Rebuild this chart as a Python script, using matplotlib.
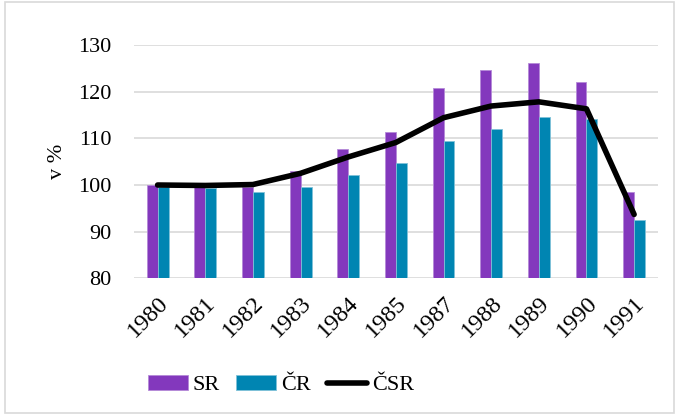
import matplotlib
matplotlib.use("Agg")
import matplotlib.pyplot as plt
import numpy as np
from matplotlib.patches import Rectangle

years = ["1980", "1981", "1982", "1983", "1984", "1985", "1987", "1988", "1989", "1990", "1991"]
sr = [100.0, 99.6, 99.6, 102.9, 107.7, 111.4, 120.7, 124.7, 126.2, 122.1, 98.4]
cr = [99.6, 99.4, 98.4, 99.5, 102.2, 104.7, 109.5, 112.0, 114.5, 114.2, 92.5]
csr = [100.0, 99.9, 100.1, 102.5, 106.0, 109.1, 114.4, 116.9, 117.8, 116.3, 93.7]

plt.rcParams['font.family'] = ['Liberation Serif', 'DejaVu Serif']

fig = plt.figure(figsize=(6.79, 4.15), dpi=100)
ax = fig.add_axes([0.197, 0.329, 0.772, 0.563])

x = np.arange(len(years))
w = 0.23
b1 = ax.bar(x - w/2, sr, width=w, color="#8338BD", edgecolor="#B58AD8", linewidth=0.6, label="SR", zorder=2)
b2 = ax.bar(x + w/2, cr, width=w, color="#0085B2", edgecolor="#7FC2D8", linewidth=0.6, label="ČR", zorder=2)
l1, = ax.plot(x, csr, color="black", linewidth=4, solid_capstyle="round", label="ČSR", zorder=3)

ax.set_xlim(-0.5, len(years) - 0.5)
ax.set_ylim(80, 130)
ax.set_yticks(range(80, 131, 10))
ax.set_xticks(x)
ax.set_xticklabels(years, rotation=45, ha="right", rotation_mode="anchor", fontsize=17.5)
ax.tick_params(axis="y", labelsize=16, length=0, pad=16)
ax.tick_params(axis="x", length=0, pad=10)
ax.yaxis.grid(True, color="#D9D9D9", linewidth=1.2, zorder=0)
ax.set_axisbelow(True)
for s in ax.spines.values():
    s.set_visible(False)
ax.set_ylabel("v %", fontsize=16, labelpad=8)

leg = fig.legend([b1, b2, l1], ["SR", "ČR", "ČSR"], loc="center left", bbox_to_anchor=(0.218, 0.072),
                 ncol=3, frameon=False, fontsize=16, handlelength=1.8, handleheight=0.7,
                 columnspacing=0.75, handletextpad=0.2, borderpad=0, borderaxespad=0)

fig.patches.append(Rectangle((0.008, 0.005), 0.985, 0.99, transform=fig.transFigure,
                             fill=False, edgecolor="#D9D9D9", linewidth=1.2))

fig.savefig("out.png", dpi=100)
